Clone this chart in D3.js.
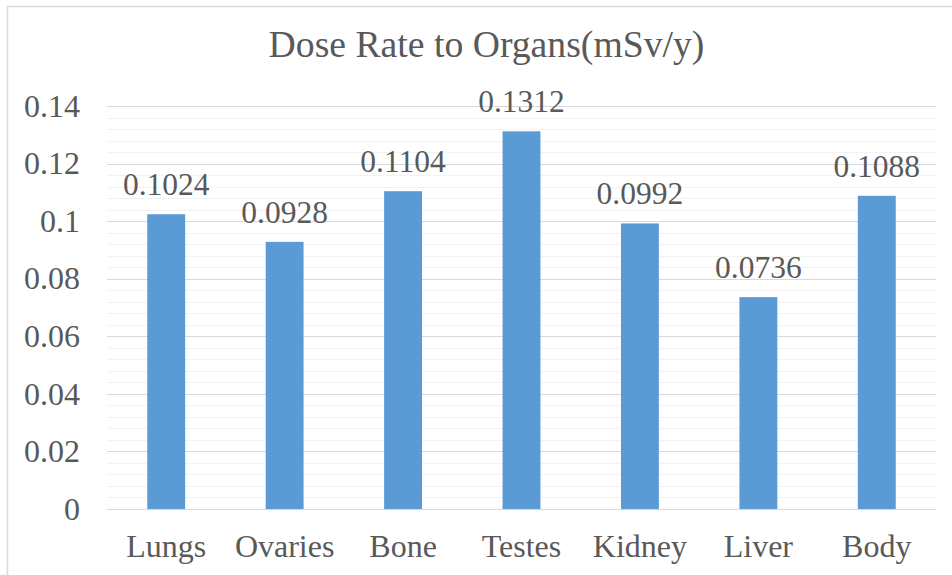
<!DOCTYPE html>
<html><head><meta charset="utf-8">
<script src="https://cdn.jsdelivr.net/npm/d3@7"></script>
<style>body{margin:0;background:#fff}svg{display:block}
svg text{font-family:"Times New Roman","Liberation Serif",serif !important;}</style>
</head><body>
<svg id="c" width="952" height="575"></svg>
<script>
const categories = ["Lungs","Ovaries","Bone","Testes","Kidney","Liver","Body"];
const values = [0.1024,0.0928,0.1104,0.1312,0.0992,0.0736,0.1088];
const valueLabels = ["0.1024","0.0928","0.1104","0.1312","0.0992","0.0736","0.1088"];
const yTicks = [0,0.02,0.04,0.06,0.08,0.1,0.12,0.14];
const yTickLabels = ["0","0.02","0.04","0.06","0.08","0.1","0.12","0.14"];
const title = "Dose Rate to Organs(mSv/y)";

const svg = d3.select("#c");
const W = 952, H = 575;
const m = {left:107, right:16, top:106, bottom:66};
const txt = "#595959";

svg.append("rect").attr("x",7.5).attr("y",6.5).attr("width",W+10).attr("height",H+10)
  .attr("fill","#fff").attr("stroke","#d9d9d9").attr("stroke-width",1.5);

const x = d3.scaleBand().domain(categories).range([m.left, W-m.right]).paddingInner(0.68).paddingOuter(0.34);
const y = d3.scaleLinear().domain([0,0.14]).range([H-m.bottom, m.top]);

const minor = d3.range(0, 0.14+1e-9, 0.004);
svg.append("g").selectAll("line").data(minor).join("line")
  .attr("x1",m.left).attr("x2",W-m.right)
  .attr("y1",d=>Math.round(y(d))+0.5).attr("y2",d=>Math.round(y(d))+0.5)
  .attr("stroke","#f2f2f2").attr("stroke-width",1);
svg.append("g").selectAll("line").data(yTicks).join("line")
  .attr("x1",m.left).attr("x2",W-m.right)
  .attr("y1",d=>Math.round(y(d))+0.5).attr("y2",d=>Math.round(y(d))+0.5)
  .attr("stroke","#d9d9d9").attr("stroke-width",1.2);

const yAxis = d3.axisLeft(y).tickValues(yTicks).tickFormat((d,i)=>yTickLabels[i]).tickSize(0).tickPadding(27);
const ya = svg.append("g").attr("transform",`translate(${m.left},0)`).call(yAxis);
ya.select(".domain").remove();
ya.selectAll("text").attr("font-size",32).attr("fill",txt);

svg.append("g").selectAll("rect").data(values).join("rect")
  .attr("x",(d,i)=>x(categories[i])).attr("width",x.bandwidth())
  .attr("y",d=>y(d)).attr("height",d=>y(0)-y(d))
  .attr("fill","#5b9bd5");

svg.append("g").selectAll("text").data(values).join("text")
  .attr("x",(d,i)=>x(categories[i])+x.bandwidth()/2).attr("y",d=>y(d)-19)
  .attr("text-anchor","middle").attr("font-size",31.5).attr("fill",txt)
  .text((d,i)=>valueLabels[i]);

const xAxis = d3.axisBottom(x).tickSize(0).tickPadding(25);
const xa = svg.append("g").attr("transform",`translate(0,${y(0)})`).call(xAxis);
xa.select(".domain").remove();
xa.selectAll("text").attr("font-size",32).attr("fill",txt);

svg.append("text").attr("x",486.5).attr("y",57).attr("text-anchor","middle")
  .attr("font-size",37.7).attr("fill",txt).text(title);
</script>
</body></html>
